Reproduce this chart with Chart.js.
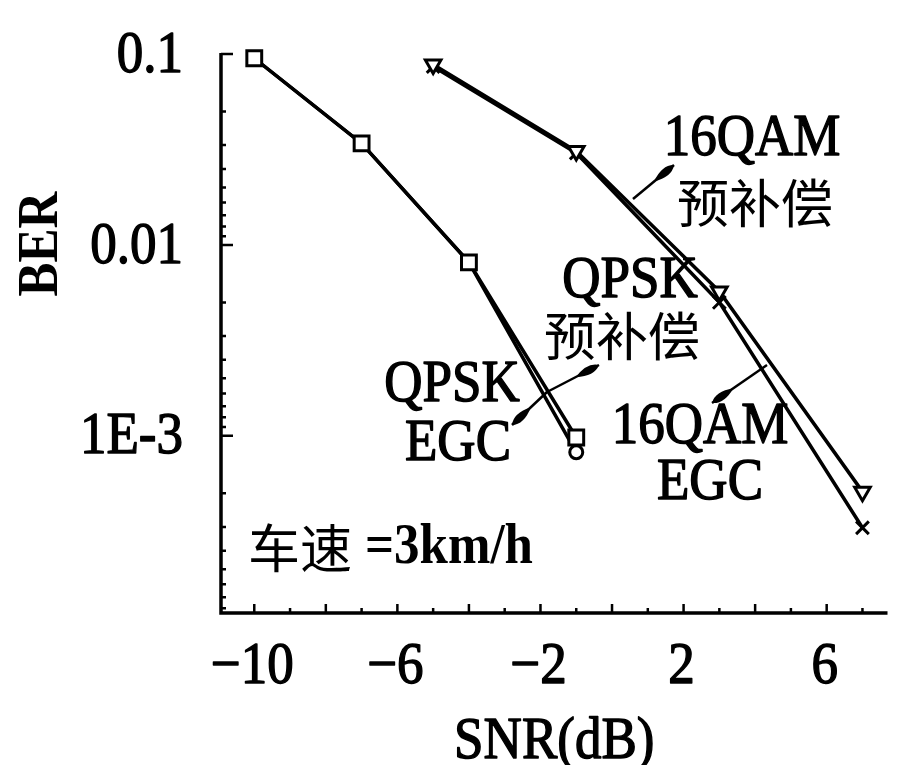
<!DOCTYPE html>
<html><head><meta charset="utf-8">
<script src="https://cdn.jsdelivr.net/npm/chart.js@4.4.1/dist/chart.umd.min.js"></script>
<style>html,body{margin:0;padding:0;background:#fff;} canvas{display:block;}</style>
</head><body>
<canvas id="c" width="901" height="765"></canvas>
<script>
// ---- data ----
const snrQpsk = [-10, -7, -4, -1];
const berQpskPre = [0.095, 0.034, 0.0081, 0.00098];
const berQpskEgc = [0.095, 0.034, 0.0081, 0.00082];
const snr16 = [-5, -1, 3, 7];
const ber16Pre = [0.088, 0.031, 0.0057, 0.00051];
const ber16Egc = [0.086, 0.0303, 0.0050, 0.00033];
const xTickValues = [-10, -6, -2, 2, 6];
const xTickLabels = ['\u221210', '\u22126', '\u22122', '2', '6'];
const yTickValues = [0.1, 0.01, 0.001];
const yTickLabels = ['0.1', '0.01', '1E-3'];
const xTitle = 'SNR(dB)';
const yTitle = 'BER';
const noteSpeed = ['车速', '=3km/h'];

const SERIF = "'Liberation Serif','Times New Roman',serif";
const CJK = "'Noto Sans CJK SC','Noto Sans CJK JP',sans-serif";
const LAT = '53px ' + SERIF;
const LATB = 'bold 51px ' + SERIF;
const CJKF = '52px ' + CJK;
const SY = 1.12;

function txt(ctx, s, x, y, font, align, sy, stroke) {
  ctx.save();
  ctx.font = font; ctx.fillStyle = '#000'; ctx.strokeStyle = '#000';
  ctx.textAlign = align || 'center'; ctx.textBaseline = 'middle';
  ctx.translate(x, y); ctx.scale(1, sy || 1);
  ctx.fillText(s, 0, 0);
  if (stroke) { ctx.lineWidth = stroke; ctx.lineJoin = 'round'; ctx.strokeText(s, 0, 0); }
  ctx.restore();
}
function arrow(ctx, x0, y0, x1, y1) {
  ctx.save();
  ctx.strokeStyle = '#000'; ctx.fillStyle = '#000'; ctx.lineWidth = 2.5;
  ctx.beginPath(); ctx.moveTo(x0, y0); ctx.lineTo(x1, y1); ctx.stroke();
  const dx = x1 - x0, dy = y1 - y0, L = Math.hypot(dx, dy);
  const ux = dx / L, uy = dy / L, nx = -uy, ny = ux;
  const hl = Math.min(26, L * 0.55), hw = 5;
  const bx = x1 - ux * hl, by = y1 - uy * hl;
  const mx = x1 - ux * hl * 0.35, my = y1 - uy * hl * 0.35;
  ctx.beginPath();
  ctx.moveTo(bx, by);
  ctx.quadraticCurveTo(mx + nx * hw * 1.6, my + ny * hw * 1.6, x1, y1);
  ctx.quadraticCurveTo(mx - nx * hw * 1.6, my - ny * hw * 1.6, bx, by);
  ctx.fill();
  ctx.restore();
}

const axesPlugin = {
  id: 'axesPlugin',
  beforeDatasetsDraw(chart) {
    const ctx = chart.ctx, xs = chart.scales.x, ys = chart.scales.y;
    const {left, right, top, bottom} = chart.chartArea;
    ctx.save();
    ctx.strokeStyle = '#000'; ctx.lineWidth = 3.5; ctx.lineCap = 'butt';
    ctx.beginPath();
    ctx.moveTo(left, top - 1); ctx.lineTo(left, bottom); ctx.lineTo(right, bottom);
    ctx.stroke();
    ctx.lineWidth = 2.5;
    ctx.beginPath();
    for (let v = Math.ceil(xs.min); v <= Math.floor(xs.max); v++) {
      const px = xs.getPixelForValue(v);
      const len = (v % 2 === 0) ? 9 : 5;
      ctx.moveTo(px, bottom); ctx.lineTo(px, bottom - len);
    }
    yTickValues.forEach(v => {
      const py = ys.getPixelForValue(v);
      ctx.moveTo(left, py); ctx.lineTo(left + 12, py);
    });
    yTickValues.forEach(d => {
      for (let k = 2; k <= 9; k++) {
        const v = d / k;
        if (v < ys.min) continue;
        const py = ys.getPixelForValue(v);
        ctx.moveTo(left, py); ctx.lineTo(left + 5, py);
      }
    });
    ctx.stroke();
    ctx.restore();
  },
  afterDraw(chart) {
    const ctx = chart.ctx, xs = chart.scales.x, ys = chart.scales.y;
    const {left, right, bottom} = chart.chartArea;
    const S = 1.3;
    xTickValues.forEach((v, i) => txt(ctx, xTickLabels[i], xs.getPixelForValue(v) - 2, bottom + 54, LAT, 'center', SY, S));
    yTickValues.forEach((v, i) => txt(ctx, yTickLabels[i], left - 38, ys.getPixelForValue(v) + 2, LAT, 'right', SY, S));
    txt(ctx, xTitle, (left + right) / 2, bottom + 129, LAT, 'center', SY, S);
    ctx.save();
    ctx.translate(42, 244); ctx.rotate(-Math.PI / 2);
    txt(ctx, yTitle, 0, 0, LATB, 'center', SY, 0);
    ctx.restore();
    txt(ctx, '16QAM', 752, 139, LAT, 'center', SY, S);
    txt(ctx, '预补偿', 755, 203, CJKF, 'center');
    txt(ctx, 'QPSK', 630, 281, LAT, 'center', SY, S);
    txt(ctx, '预补偿', 622, 336, CJKF, 'center');
    txt(ctx, 'QPSK', 452, 385, LAT, 'center', SY, S);
    txt(ctx, 'EGC', 458, 444, LAT, 'center', SY, S);
    txt(ctx, '16QAM', 700, 427, LAT, 'center', SY, S);
    txt(ctx, 'EGC', 710, 483, LAT, 'center', SY, S);
    txt(ctx, noteSpeed[0], 248, 548, CJKF, 'left');
    txt(ctx, noteSpeed[1], 365, 548, LATB, 'left', SY, 0);
    arrow(ctx, 633, 199, 674, 165);
    arrow(ctx, 547, 392, 599, 365);
    arrow(ctx, 547, 392, 512, 425);
    arrow(ctx, 767, 365, 712, 403);
  }
};

function pts(xsArr, ysArr) { return xsArr.map((x, i) => ({x, y: ysArr[i]})); }
const common = {borderColor: '#000', borderWidth: 3.5, pointBorderColor: '#000', pointBackgroundColor: '#fff',
  pointBorderWidth: 3, tension: 0, fill: false, clip: false};

new Chart(document.getElementById('c'), {
  type: 'line',
  data: {
    datasets: [
      Object.assign({label: 'QPSK 预补偿', data: pts(snrQpsk, berQpskPre), pointStyle: 'rect', pointRadius: 10.5, order: 0}, common),
      Object.assign({label: 'QPSK EGC', data: pts(snrQpsk, berQpskEgc), pointStyle: 'circle', pointRadius: 6.5, order: 1}, common),
      Object.assign({label: '16QAM 预补偿', data: pts(snr16, ber16Pre), pointStyle: 'triangle', pointRotation: 180, pointRadius: 9, order: 2}, common),
      Object.assign({label: '16QAM EGC', data: pts(snr16, ber16Egc), pointStyle: 'crossRot', pointRadius: 9, order: 3}, common)
    ]
  },
  options: {
    responsive: false, animation: false, devicePixelRatio: 1,
    layout: {padding: {left: 221, top: 54, right: 0, bottom: 152}},
    plugins: {legend: {display: false}, tooltip: {enabled: false}, title: {display: false}},
    scales: {
      x: {type: 'linear', min: -10.93, max: 7.7, display: false},
      y: {type: 'logarithmic', min: 1.18e-4, max: 0.1, display: false}
    }
  },
  plugins: [axesPlugin]
});
</script>
</body></html>
